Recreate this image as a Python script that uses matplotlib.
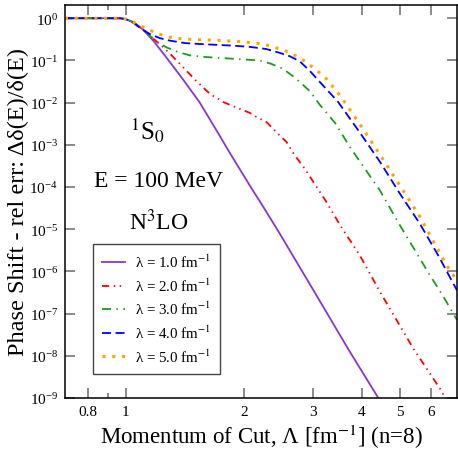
import numpy as np
import matplotlib
matplotlib.use("Agg")
import matplotlib.pyplot as plt
from matplotlib.ticker import FixedLocator, FixedFormatter, LogLocator, NullLocator

plt.rcParams['font.family'] = ['Liberation Serif', 'DejaVu Serif']
plt.rcParams['mathtext.fontset'] = 'stix'

# 數據：截斷動量 Λ 與相對誤差 (log10)，自圖中讀取
lam1_x = [0.70, 0.90, 0.97, 1.00, 1.05, 1.107, 1.18, 1.27, 1.40, 1.545, 1.70, 1.84, 2.10, 2.24, 2.47, 3.09, 3.70, 4.39, 4.50]
lam1_y = [0.0, 0.0, -0.005, -0.02, -0.10, -0.27, -0.55, -0.93, -1.45, -2.0, -2.64, -3.18, -4.05, -4.46, -5.1, -6.62, -7.85, -8.97, -9.15]

lam2_x = [0.70, 0.97, 1.00, 1.05, 1.107, 1.16, 1.22, 1.30, 1.374, 1.50, 1.638, 1.778, 1.897, 2.07, 2.175, 2.286,
          2.447, 2.57, 2.70, 2.86, 3.07, 3.25, 3.52, 3.95, 4.45, 5.41, 6.40, 6.60]
lam2_y = [0.0, 0.0, -0.02, -0.11, -0.27, -0.44, -0.61, -0.85, -1.08, -1.45, -1.79, -1.99, -2.10, -2.24, -2.36, -2.46,
          -2.74, -2.93, -3.25, -3.56, -4.0, -4.35, -4.9, -5.61, -6.48, -7.82, -8.84, -9.1]

lam3_x = [0.70, 0.97, 1.00, 1.05, 1.10, 1.15, 1.21, 1.27, 1.36, 1.457, 1.60, 1.737, 1.95, 2.196, 2.35, 2.52, 2.65,
          2.78, 2.95, 3.12, 3.42, 3.73, 4.45, 5.00, 5.46, 5.97, 6.39, 7.00]
lam3_y = [0.0, 0.0, -0.02, -0.10, -0.25, -0.41, -0.57, -0.69, -0.80, -0.88, -0.92, -0.94, -0.97, -1.0, -1.08, -1.2, -1.35,
          -1.51, -1.73, -2.04, -2.48, -3.05, -4.08, -4.9, -5.49, -6.09, -6.52, -7.15]

lam4_x = [0.70, 0.97, 1.00, 1.05, 1.085, 1.15, 1.22, 1.295, 1.42, 1.545, 1.70, 1.88, 2.08, 2.285, 2.47, 2.62, 2.78,
          2.95, 3.12, 3.48, 3.95, 4.45, 5.00, 5.62, 6.26, 7.00]
lam4_y = [0.0, 0.0, -0.02, -0.12, -0.22, -0.37, -0.47, -0.53, -0.59, -0.61, -0.63, -0.65, -0.68, -0.73, -0.82, -0.90, -1.02,
          -1.25, -1.5, -1.98, -2.7, -3.4, -4.15, -4.86, -5.61, -6.45]

lam5_x = [0.70, 0.97, 1.00, 1.03, 1.065, 1.13, 1.21, 1.295, 1.40, 1.545, 1.70, 1.95, 2.24, 2.40, 2.55, 2.73, 2.89,
          3.05, 3.22, 3.52, 3.95, 4.45, 5.00, 5.60, 6.58, 6.84, 7.00]
lam5_y = [0.0, 0.0, -0.02, -0.06, -0.13, -0.25, -0.37, -0.45, -0.49, -0.51, -0.52, -0.55, -0.61, -0.69, -0.77, -0.90, -1.04,
          -1.22, -1.39, -1.83, -2.5, -3.23, -3.96, -4.67, -5.85, -6.08, -6.25]

series = [
    (lam1_x, lam1_y, "λ = 1.0 fm$^{-1}$", "#8a35cc", "-", 1.3),
    (lam2_x, lam2_y, "λ = 2.0 fm$^{-1}$", "#ff0000", (0, (4, 2.5, 0.8, 2.5, 0.8, 2.5)), 1.3),
    (lam3_x, lam3_y, "λ = 3.0 fm$^{-1}$", "#1e9a1e", (0, (5, 3, 0.8, 3)), 1.3),
    (lam4_x, lam4_y, "λ = 4.0 fm$^{-1}$", "#0000ff", (0, (5, 2.5)), 1.3),
    (lam5_x, lam5_y, "λ = 5.0 fm$^{-1}$", "#ffa500", (0, (1, 2.2)), 2.2),
]

fig = plt.figure(figsize=(4.58, 4.52), dpi=100)
ax = fig.add_axes([65 / 458, 1 - 399 / 452, 392 / 458, 393 / 452])

for xs, ys, label, color, ls, lw in series:
    ax.plot(xs, 10.0 ** np.array(ys), color=color, linestyle=ls, linewidth=lw, label=label)

ax.set_xscale("log")
ax.set_yscale("log")
ax.set_xlim(0.7, 7.0)
ax.set_ylim(1e-9, 2.06)

xticks = [0.8, 1, 2, 3, 4, 5, 6]
ax.xaxis.set_major_locator(FixedLocator(xticks))
ax.xaxis.set_major_formatter(FixedFormatter(["0.8", "1", "2", "3", "4", "5", "6"]))
ax.xaxis.set_minor_locator(FixedLocator([0.9]))
ax.yaxis.set_major_locator(LogLocator(base=10, numticks=20))
ax.yaxis.set_minor_locator(NullLocator())

ax.tick_params(which="both", direction="in", top=True, right=True, color="#777777", width=1.2, labelsize=11)
ax.tick_params(which="major", length=7.2, pad=5)
ax.tick_params(which="minor", length=3.6)
for sp in ax.spines.values():
    sp.set_linewidth(1.1)

ax.set_xlabel("Momentum of Cut, Λ [fm$^{-1}$] (n=8)", fontsize=16.5, labelpad=3)
ax.set_ylabel("Phase Shift - rel err: Δδ(E)/δ(E)", fontsize=17.5, labelpad=0)

# 標註文字
def axpos(px, py):
    return (px - 65) / 392, (399 - py) / 393

ax.text(*axpos(147, 131), "$^{1}$S$_{0}$", fontsize=18, ha="center", va="center", transform=ax.transAxes)
ax.text(*axpos(159, 182), "E = 100 MeV", fontsize=17, ha="center", va="center", transform=ax.transAxes)
ax.text(*axpos(159, 222), "N$^{3}$LO", fontsize=17, ha="center", va="center", transform=ax.transAxes)

leg = ax.legend(loc="upper left", bbox_to_anchor=axpos(93, 245), borderaxespad=0,
                fontsize=10.8, handlelength=1.5, labelspacing=0.42, fancybox=False, framealpha=1,
                edgecolor="#444444", borderpad=0.6, handletextpad=0.7)
leg.get_frame().set_linewidth(1.0)

plt.savefig("out.png", dpi=100)
